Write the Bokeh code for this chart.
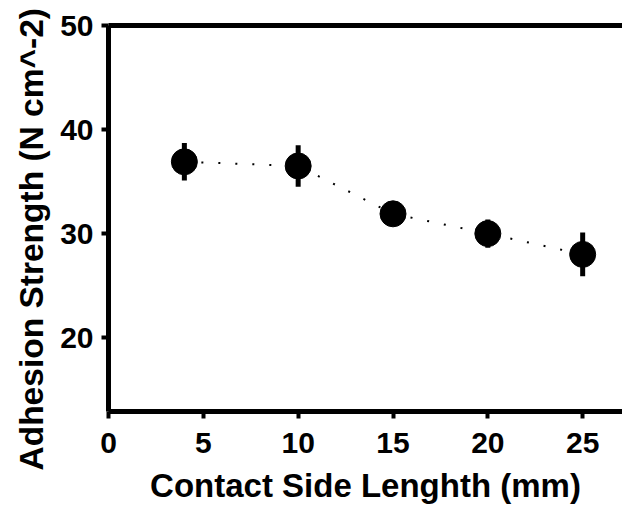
from bokeh.plotting import figure
from bokeh.models import LinearAxis, Range1d, FixedTicker, Title
from bokeh.embed import file_html
from bokeh.resources import INLINE

# data
side_length = [4, 10, 15, 20, 25]
strength = [36.9, 36.5, 31.9, 30.0, 28.0]
err = [1.8, 2.0, 0.8, 1.35, 2.1]
x_ticks = [0, 5, 10, 15, 20, 25]
y_ticks = [20, 30, 40, 50]
x_title = "Contact Side Lenghth (mm)"
y_title = "Adhesion Strength (N cm^-2)"

lower = [s - e for s, e in zip(strength, err)]
upper = [s + e for s, e in zip(strength, err)]

FONT = "Liberation Sans"

p = figure(width=622, height=511, output_backend="svg", toolbar_location=None,
           x_range=Range1d(0, 27.1), y_range=Range1d(12.9, 50),
           min_border_left=108, min_border_right=0, min_border_top=25,
           min_border_bottom=100)
p.outline_line_color = None
p.grid.visible = False
p.background_fill_color = "white"
p.border_fill_color = "white"

p.line(side_length, strength, line_color="black", line_width=2, line_dash="2 15")
p.segment(x0=side_length, y0=lower, x1=side_length, y1=upper,
          line_color="black", line_width=5)
p.scatter(side_length, strength, size=26, marker="circle",
          fill_color="black", line_color="black")

for ax in (p.xaxis[0], p.yaxis[0]):
    ax.axis_line_width = 5
    ax.major_tick_line_width = 4
    ax.minor_tick_line_width = 4
    ax.major_tick_in = 0
    ax.minor_tick_in = 0
    ax.major_tick_out = 7
    ax.minor_tick_out = 3
    ax.major_label_text_font = FONT
    ax.major_label_text_font_style = "bold"
    ax.major_label_text_font_size = "30px"
    ax.major_label_text_color = "black"
    ax.axis_label_text_font = FONT
    ax.axis_label_text_font_style = "bold"
    ax.axis_label_text_font_size = "33px"
    ax.axis_label_text_color = "black"

p.xaxis.ticker = x_ticks
p.xaxis[0].ticker.num_minor_ticks = 2
p.yaxis.ticker = y_ticks
p.yaxis[0].ticker.num_minor_ticks = 2
p.xaxis.axis_label = x_title
p.xaxis.major_label_standoff = 14
p.xaxis.axis_label_standoff = 11
p.yaxis.major_label_standoff = 8

# y title placed as a side title, anchored below the frame bottom like the reference
ytitle = Title(text=y_title, align="left", offset=-59, standoff=15,
               text_font=FONT, text_font_style="bold", text_font_size="33.5px",
               text_color="black")
p.add_layout(ytitle, "left")

top = LinearAxis(ticker=FixedTicker(ticks=[]), major_tick_in=0, major_tick_out=0,
                 minor_tick_in=0, minor_tick_out=0, axis_line_width=5,
                 major_label_standoff=0)
p.add_layout(top, "above")

open("out.html", "w").write(file_html(p, INLINE))
